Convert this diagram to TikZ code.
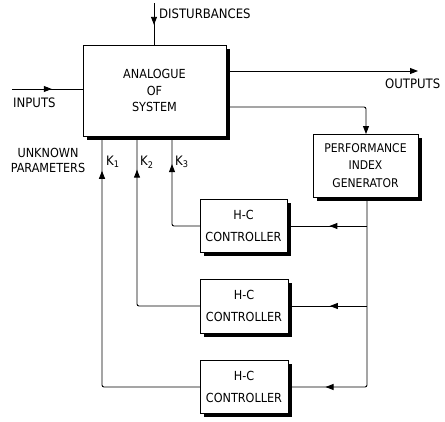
\documentclass[tikz,border=0pt]{standalone}
\usepackage{fontspec}
\setmainfont{DejaVu Sans Condensed}
\usetikzlibrary{arrows.meta,backgrounds,decorations.markings}
\tikzset{
  box/.style={draw, fill=white, line width=0.9pt, inner sep=0pt, outer sep=0pt,
    align=center, font=\fontsize{12.5}{16.5}\selectfont},
  shade/.style={fill=black},
  wire/.style={line width=0.9pt, rounded corners=2pt},
  tip/.style={-{Triangle[length=8pt,width=6pt]}},
  midarrow/.style={postaction={decorate}, decoration={markings,
    mark=at position #1 with {\arrow{Triangle[length=8pt,width=6pt]}}}},
  lbl/.style={font=\fontsize{13}{15}\selectfont, inner sep=0pt},
}
\begin{document}
\begin{tikzpicture}[x=1pt,y=-1pt]
\useasboundingbox (0,0) rectangle (445,421);
\node[box, minimum width=143pt, minimum height=91pt] (sys) at (154.5,90.5) {ANALOGUE\\OF\\SYSTEM};
\node[box, minimum width=105pt, minimum height=63pt, font=\fontsize{12}{17.5}\selectfont] (pig) at (365.5,165.5) {PERFORMANCE\\INDEX\\GENERATOR};
\node[box, minimum width=87pt, minimum height=53pt, font=\fontsize{12.5}{22}\selectfont] (c1) at (243.5,225.5) {H-C\\CONTROLLER};
\node[box, minimum width=88pt, minimum height=54pt, font=\fontsize{12.5}{22}\selectfont] (c2) at (244,306) {H-C\\CONTROLLER};
\node[box, minimum width=88pt, minimum height=53pt, font=\fontsize{12.5}{22}\selectfont] (c3) at (244,386.5) {H-C\\CONTROLLER};

\begin{scope}[on background layer]
  \foreach \b in {sys,pig,c1,c2,c3}
    \fill[shade] ([shift={(3.5,3.5)}]\b.south west) rectangle ([shift={(3.5,3.5)}]\b.north east);
\end{scope}

\coordinate (dtop) at (154,3);
\coordinate (inL) at (12,89);
\coordinate (outR) at (418,71);
\coordinate (pigin) at (366,107);
\coordinate (k1) at (102,387);
\coordinate (k2) at (137,306);
\coordinate (k3) at (172,226);
\coordinate (fb3) at (367,387);
\coordinate (fb1) at (367,226);
\coordinate (fb2) at (367,306);

% inputs, disturbances, outputs
\draw[wire, midarrow=0.52] (dtop) -- (dtop |- sys.north);
\draw[wire, midarrow=0.56] (inL) -- (inL -| sys.west);
\draw[wire, tip] (outR -| sys.east) -- (outR);
\draw[wire, tip] (pigin -| sys.east) -- (pigin) -- (pigin |- pig.north);

% K lines
\draw[wire, midarrow=0.76] (c1.west |- k3) -- (k3) -- (k3 |- sys.south);
\draw[wire, midarrow=0.855] (c2.west |- k2) -- (k2) -- (k2 |- sys.south);
\draw[wire, midarrow=0.90] (c3.west |- k1) -- (k1) -- (k1 |- sys.south);

% feedback from PIG
\draw[wire, midarrow=0.86] (fb3 |- pig.south) -- (fb3) -- (fb3 -| c3.east);
\draw[wire, midarrow=0.47] (fb1) -- (fb1 -| c1.east);
\draw[wire, midarrow=0.47] (fb2) -- (fb2 -| c2.east);

% labels
\node[lbl, anchor=west] (ldist) at (159,14) {DISTURBANCES};
\node[lbl, anchor=west] (lout) at (385,84) {OUTPUTS};
\node[lbl, anchor=west] (lin) at (13,103) {INPUTS};
\node[lbl, align=center, font=\fontsize{12.5}{15}\selectfont] (lunk) at (48,160.5) {UNKNOWN\\PARAMETERS};
\node[lbl, anchor=west] (lk1) at (106,162) {K\textsubscript{1}};
\node[lbl, anchor=west] (lk2) at (140,162) {K\textsubscript{2}};
\node[lbl, anchor=west] (lk3) at (175,162) {K\textsubscript{3}};
\end{tikzpicture}
\end{document}
